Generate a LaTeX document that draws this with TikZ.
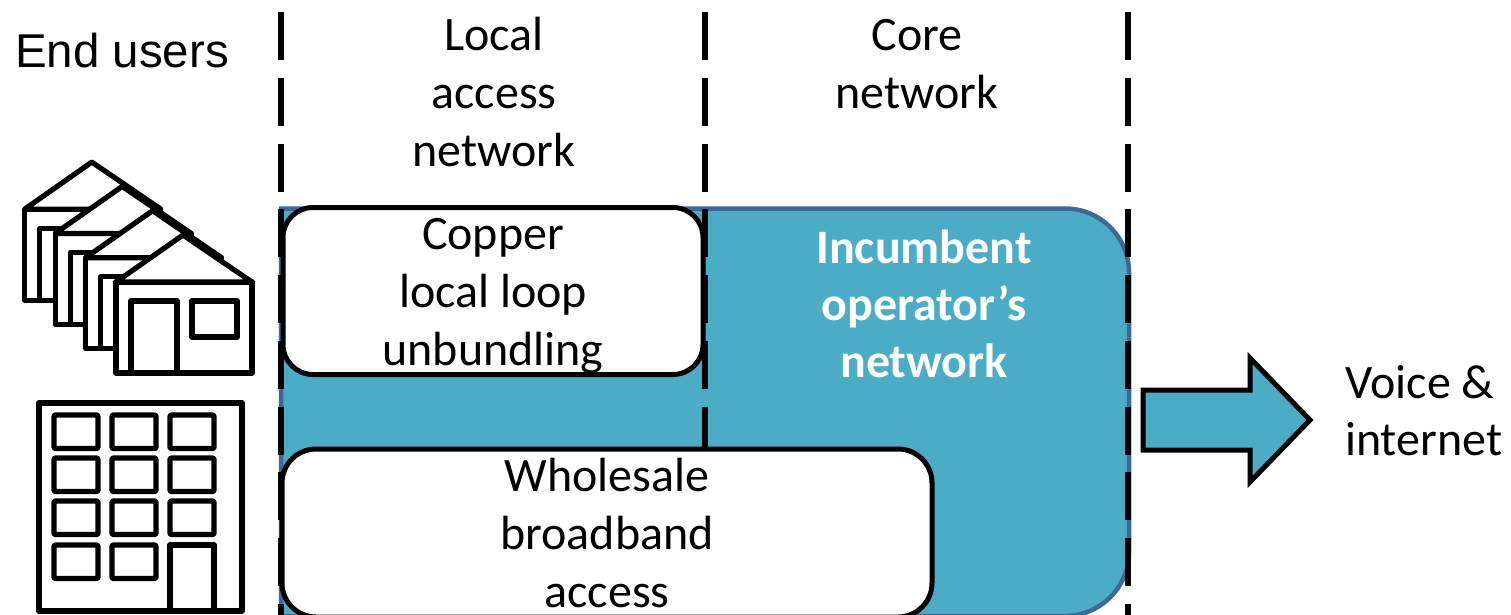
\documentclass[tikz,border=0pt]{standalone}
\usepackage{fontspec}
\setmainfont{Carlito}
\newfontfamily\arialfont{Liberation Sans}
\definecolor{netblue}{HTML}{4BACC6}
\definecolor{netedge}{HTML}{3F6797}
\tikzset{
  divider/.style={line width=6pt,black,dash pattern=on 48pt off 17.75pt},
  icon/.style={line width=5.2pt,black,fill=white,line join=round},
  iconopen/.style={line width=5.2pt,black,line join=round},
  whitebox/.style={draw=black,fill=white,line width=5pt,rounded corners=30pt},
  head/.style={align=center,inner sep=0pt,font=\fontsize{48}{58}\selectfont},
  sidelabel/.style={align=left,inner sep=0pt,font=\arialfont\fontsize{47.5}{57}\selectfont},
  house/.pic={
    \draw[icon] (116,282) rectangle (252,373);
    \draw[icon] (116,282) -- (183,235) -- (252,282) -- cycle;
    \draw[iconopen] (131,373) -- (131,301) -- (177,301) -- (177,373);
    \draw[icon] (192,301) rectangle (237,337);
  }
}
\begin{document}
\begin{tikzpicture}[x=1pt,y=-1pt]
\useasboundingbox (0,0) rectangle (1511,615);
\fill[white] (0,0) rectangle (1511,615);
% incumbent network background
\draw[draw=netedge,fill=netblue,line width=4.5pt]
  (281,208.5) -- (1065,208.5) arc[start angle=-90,end angle=0,radius=64] -- (1129,552)
  arc[start angle=0,end angle=90,radius=64] -- (281,616) -- cycle;
% dividers
\coordinate (d1t) at (281,12); \coordinate (d1b) at (281,615);
\coordinate (d2t) at (705,12); \coordinate (d2b) at (705,615);
\coordinate (d3t) at (1128,12); \coordinate (d3b) at (1128,615);
\draw[divider] (d1t) -- (d1b);
\draw[divider] (d2t) -- (d2b);
\draw[divider] (d3t) -- (d3b);
% white boxes
\node[whitebox,minimum width=420pt,minimum height=167pt] (copper) at (493,291) {};
\node[head] (copperlabel) at (493,296.5) {Copper\\local loop\\unbundling};
\node[whitebox,minimum width=650pt,minimum height=168pt,rounded corners=34pt] (wholesale) at (607,533) {};
\node[head] (wholesalelabel) at (607,533) {Wholesale\\broadband\\access};
% headings
\node[sidelabel] (endusers) at (122,51) {End users};
\node[head] (local) at (494,92) {Local\\access\\network};
\node[head] (core) at (917,64) {Core\\network};
\node[head,text=white,font=\bfseries\fontsize{48}{57}\selectfont] (incumbent) at (924,304) {Incumbent\\operator’s\\network};
\node[head,align=left,anchor=west,font=\fontsize{48}{57}\selectfont] (voice) at (1345,411) {Voice \&\\internet};
% arrow
\draw[draw=black,fill=netblue,line width=5pt,line join=miter]
  (1143,390) -- (1250,390) -- (1250,358) -- (1310,420) -- (1250,482) -- (1250,450) -- (1143,450) -- cycle;
% houses
\foreach \k in {3,2,1,0}{
  \pic at ({-30.4*\k},{-24.3*\k}) {house};
}
% building
\draw[icon] (39,403) rectangle (242,611);
\foreach \yy in {415,458,501,545}{
  \foreach \xx in {54,112}{
    \draw[icon,rounded corners=1pt] (\xx,\yy) rectangle ++(44,33.5);
  }
}
\foreach \yy in {415,458,501}{
  \draw[icon,rounded corners=1pt] (170,\yy) rectangle ++(44,33.5);
}
\draw[iconopen] (170,611) -- (170,545) -- (214,545) -- (214,611);
\end{tikzpicture}
\end{document}
